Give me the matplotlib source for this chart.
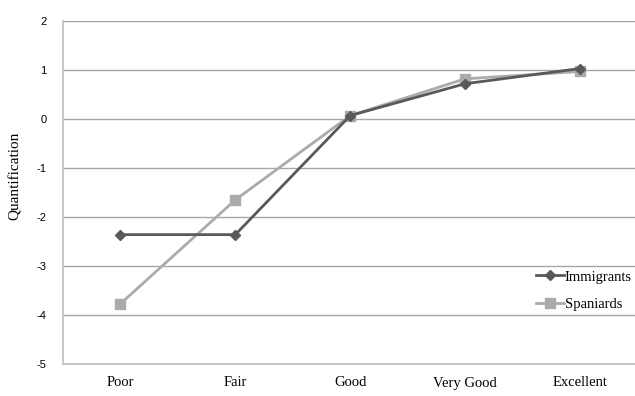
import matplotlib
matplotlib.use("Agg")
import matplotlib.pyplot as plt

categories = ["Poor", "Fair", "Good", "Very Good", "Excellent"]
immigrants = [-2.36, -2.36, 0.07, 0.72, 1.03]
spaniards = [-3.77, -1.65, 0.07, 0.82, 0.97]
yticks = [-5, -4, -3, -2, -1, 0, 1, 2]

fig = plt.figure(figsize=(6.35, 3.96), dpi=100)
ax = fig.add_axes([63 / 635, 32 / 396, (635 - 63) / 635, 343 / 396])

x = range(len(categories))
ax.plot(x, immigrants, color="#595959", lw=2, marker="D", ms=5, label="Immigrants", zorder=3)
ax.plot(x, spaniards, color="#ababab", lw=2, marker="s", ms=7, label="Spaniards", zorder=2)

ax.set_xlim(-0.5, 4.5 - 2.5 / 115)
ax.set_ylim(-5, 2)
ax.set_yticks(yticks)
ax.set_yticklabels([str(v) for v in yticks], fontsize=8, family="Liberation Sans")
ax.set_xticks(list(x))
ax.set_xticklabels(categories, fontsize=10.5, family="Liberation Serif")
ax.tick_params(length=0)
ax.tick_params(axis="y", pad=12)
ax.tick_params(axis="x", pad=9)
ax.grid(axis="y", color="#a6a6a6", lw=1)
ax.set_axisbelow(True)
for s in ["top", "right"]:
    ax.spines[s].set_visible(False)
for s in ["left", "bottom"]:
    ax.spines[s].set_color("#bfbfbf")
    ax.spines[s].set_linewidth(1.2)
ax.set_ylabel("Quantification", fontsize=11, family="Liberation Serif")
ax.yaxis.set_label_coords(-0.072, 0.55)

leg = ax.legend(loc="upper left", bbox_to_anchor=(529 / 635, 1 - 263 / 396),
                bbox_transform=fig.transFigure, frameon=False,
                prop={"family": "Liberation Serif", "size": 10.5},
                handlelength=1.9, handletextpad=0.05, labelspacing=1.0, borderpad=0)

fig.savefig("out.png", dpi=100)
